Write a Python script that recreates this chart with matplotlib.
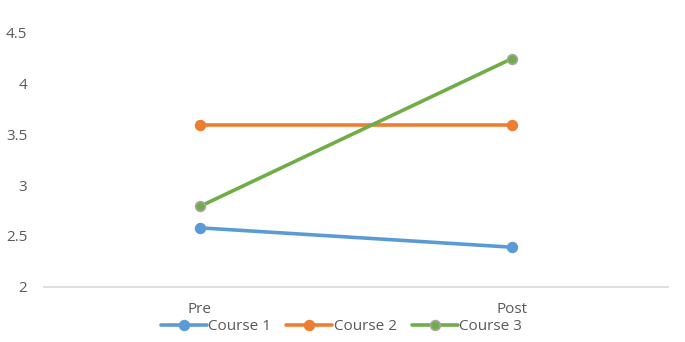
import matplotlib
matplotlib.use("Agg")
import matplotlib.pyplot as plt

plt.rcParams["font.family"] = ["Open Sans", "DejaVu Sans"]

categories = ["Pre", "Post"]
course1 = [2.58, 2.39]
course2 = [3.59, 3.59]
course3 = [2.79, 4.24]
series_names = ["Course 1", "Course 2", "Course 3"]
yticks = [2, 2.5, 3, 3.5, 4, 4.5]

colors = ["#5B9BD5", "#ED7D31", "#70AD47"]
edge_colors = ["#5B9BD5", "#ED7D31", "#A5A5A5"]
text_color = "#595959"

fig = plt.figure(figsize=(6.85, 3.42), dpi=100)
ax = fig.add_axes([0.064, 0.161, 0.911, 0.745])

x = list(range(len(categories)))
for vals, name, c, ec in zip([course1, course2, course3], series_names, colors, edge_colors):
    ax.plot(x, vals, color=c, lw=2.6, marker="o", ms=7, mfc=c, mec=ec, mew=1.2,
            label=name, solid_capstyle="round")

ax.set_xlim(-0.5, 1.5)
ax.set_ylim(2, 4.5)
ax.set_yticks(yticks)
ax.set_yticklabels([f"{v:g}" for v in yticks])
ax.set_xticks(x)
ax.set_xticklabels(categories)
ax.tick_params(length=0, labelsize=11, colors=text_color)
ax.tick_params(axis="y", pad=12)
ax.tick_params(axis="x", pad=11)

for s in ["top", "right", "left"]:
    ax.spines[s].set_visible(False)
ax.spines["bottom"].set_color("#D9D9D9")
ax.spines["bottom"].set_linewidth(1.2)

leg = ax.legend(loc="upper center", bbox_to_anchor=(0.477, -0.127), ncol=3, frameon=False,
                fontsize=11, handlelength=3.0, handletextpad=0.1, columnspacing=1.0,
                borderaxespad=0, borderpad=0)
for t in leg.get_texts():
    t.set_color(text_color)

fig.savefig("out.png", dpi=100)
